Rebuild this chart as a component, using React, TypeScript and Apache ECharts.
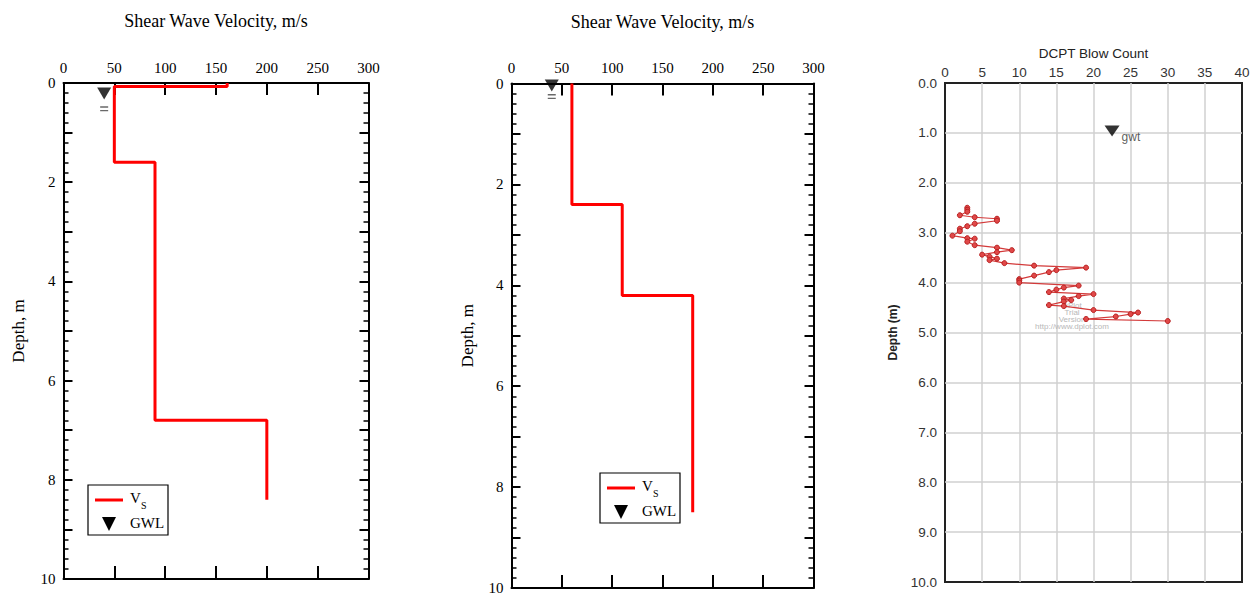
import React, { useEffect, useRef } from "react";
import * as echarts from "echarts";

// ---- Data ----
const leftVsVelocity = [161, 161, 50, 50, 90, 90, 200, 200];
const leftVsDepth = [0, 0.07, 0.07, 1.6, 1.6, 6.8, 6.8, 8.4];
const leftGwl = [40, 0.21];
const leftGwlDash = [40, 0.52];

const midVsVelocity = [60, 60, 110, 110, 180, 180];
const midVsDepth = [0, 2.4, 2.4, 4.2, 4.2, 8.5];
const midGwl = [40, 0.04];
const midGwlDash = [40, 0.26];

const dcptBlows = [3, 3, 3, 2, 4, 7, 7, 4, 3, 2, 2, 1, 3, 4, 3, 4, 7, 9, 7, 5, 6, 7, 6, 8, 12, 19, 15, 14, 12, 10, 10, 10, 18, 16, 15, 14, 20, 18, 16, 17, 16, 14, 16, 20, 26, 25, 23, 19, 30];
const dcptDepth = [2.5, 2.54, 2.58, 2.65, 2.69, 2.72, 2.76, 2.82, 2.87, 2.92, 2.97, 3.06, 3.11, 3.12, 3.18, 3.25, 3.3, 3.35, 3.39, 3.44, 3.48, 3.52, 3.55, 3.61, 3.66, 3.7, 3.75, 3.79, 3.86, 3.93, 3.96, 4.0, 4.06, 4.1, 4.14, 4.19, 4.23, 4.27, 4.32, 4.35, 4.38, 4.45, 4.47, 4.55, 4.6, 4.63, 4.68, 4.73, 4.77];
const gwtPoint = [22.5, 0.96];

const velocityTitle = "Shear Wave Velocity, m/s";
const depthTitle = "Depth, m";
const dcptTitle = "DCPT Blow Count";
const dcptDepthTitle = "Depth (m)";
const watermark = ["DPlot", "Trial", "Version", "http://www.dplot.com"];

const SERIF = "'Liberation Serif', 'Times New Roman', serif";
const SANS = "'Liberation Sans', Arial, sans-serif";

const zip = (a: number[], b: number[]) => a.map((v, i) => [v, b[i]]);

function velTop(gridIndex: number) {
  return {
    type: "value", gridIndex, position: "top", min: 0, max: 300, interval: 50,
    name: velocityTitle, nameLocation: "middle", nameGap: 53,
    nameTextStyle: { fontFamily: SERIF, fontSize: 18, color: "#000" },
    axisLine: { show: true, onZero: false, lineStyle: { color: "#000", width: 2 } },
    axisTick: { show: true, inside: true, length: 12, lineStyle: { color: "#000", width: 2 } },
    axisLabel: { show: true, margin: 8, fontFamily: SERIF, fontSize: 15, color: "#000" },
    splitLine: { show: false },
  };
}
function velBottom(gridIndex: number) {
  return {
    type: "value", gridIndex, position: "bottom", min: 0, max: 300, interval: 50,
    axisLine: { show: true, onZero: false, lineStyle: { color: "#000", width: 2 } },
    axisTick: { show: true, inside: true, length: 13, lineStyle: { color: "#000", width: 2 } },
    axisLabel: { show: false },
    splitLine: { show: false },
  };
}
function depthLeft(gridIndex: number, gap: number) {
  return {
    type: "value", gridIndex, position: "left", inverse: true, min: 0, max: 10, interval: 1,
    name: depthTitle, nameLocation: "middle", nameGap: gap, nameRotate: 90,
    nameTextStyle: { fontFamily: SERIF, fontSize: 17, color: "#000" },
    axisLine: { show: true, onZero: false, lineStyle: { color: "#000", width: 2 } },
    axisTick: { show: true, inside: true, length: 9, lineStyle: { color: "#000", width: 2 } },
    minorTick: { show: true, splitNumber: 5, length: 5, lineStyle: { color: "#000", width: 1.5 } },
    axisLabel: {
      show: true, margin: 8, fontFamily: SERIF, fontSize: 15, color: "#000",
      formatter: (v: number) => (v % 2 === 0 ? String(v) : ""),
    },
    splitLine: { show: false },
  };
}
function depthRight(gridIndex: number) {
  return {
    type: "value", gridIndex, position: "right", inverse: true, min: 0, max: 10, interval: 1,
    axisLine: { show: true, onZero: false, lineStyle: { color: "#000", width: 2 } },
    axisTick: { show: true, inside: true, length: 9, lineStyle: { color: "#000", width: 2 } },
    minorTick: { show: true, splitNumber: 5, length: 5, lineStyle: { color: "#000", width: 1.5 } },
    axisLabel: { show: false },
    splitLine: { show: false },
  };
}

function legendGroup(x: number, y: number) {
  return {
    type: "group", x, y, z: 100,
    children: [
      { type: "rect", shape: { x: 0, y: 0, width: 80, height: 50 }, style: { fill: "#fff", stroke: "#000", lineWidth: 1.2 } },
      { type: "line", shape: { x1: 7, y1: 15, x2: 35, y2: 15 }, style: { stroke: "#ff0000", lineWidth: 3 } },
      { type: "text", x: 42, y: 13, style: { text: "V", fontFamily: SERIF, fontSize: 15, fill: "#000", verticalAlign: "middle" } },
      { type: "text", x: 53, y: 20, style: { text: "S", fontFamily: SERIF, fontSize: 10, fill: "#000", verticalAlign: "middle" } },
      { type: "polygon", shape: { points: [[14, 32], [28, 32], [21, 46]] }, style: { fill: "#000" } },
      { type: "text", x: 42, y: 38, style: { text: "GWL", fontFamily: SERIF, fontSize: 15, fill: "#000", verticalAlign: "middle" } },
    ],
  };
}

const dashSymbol = "path://M0,0L10,0L10,1.5L0,1.5Z M0,4L10,4L10,5.5L0,5.5Z";

export default function App() {
  const ref = useRef<HTMLDivElement>(null);
  useEffect(() => {
    if (!ref.current) return;
    const chart = echarts.init(ref.current, undefined, { renderer: "svg" });
    const option: any = {
      animation: false,
      backgroundColor: "#fff",
      grid: [
        { left: 63.5, top: 83, width: 305, height: 496 },
        { left: 511.5, top: 83.5, width: 302, height: 504.5 },
        { left: 945, top: 83, width: 297, height: 499, show: true, borderColor: "#222", borderWidth: 2, backgroundColor: "transparent" },
      ],
      xAxis: [
        velTop(0),
        velBottom(0),
        velTop(1),
        velBottom(1),
        {
          type: "value", gridIndex: 2, position: "top", min: 0, max: 40, interval: 5,
          name: dcptTitle, nameLocation: "middle", nameGap: 17,
          nameTextStyle: { fontFamily: SANS, fontSize: 13.5, color: "#222" },
          axisLine: { show: false, onZero: false }, axisTick: { show: false },
          axisLabel: { margin: 4, fontFamily: SANS, fontSize: 13.5, color: "#333" },
          splitLine: { show: true, showMinLine: false, showMaxLine: false, lineStyle: { color: "#d0d0d0", width: 1.5 } },
        },
      ],
      yAxis: [
        depthLeft(0, 37),
        depthRight(0),
        depthLeft(1, 36),
        depthRight(1),
        {
          type: "value", gridIndex: 2, position: "left", inverse: true, min: 0, max: 10, interval: 1,
          name: dcptDepthTitle, nameLocation: "middle", nameGap: 46, nameRotate: 90,
          nameTextStyle: { fontFamily: "'Liberation Sans Narrow', " + SANS, fontSize: 12, fontWeight: "bold", color: "#222" },
          axisLine: { show: false, onZero: false }, axisTick: { show: false },
          axisLabel: { margin: 8, fontFamily: SANS, fontSize: 13.5, color: "#333", formatter: (v: number) => v.toFixed(1) },
          splitLine: { show: true, showMinLine: false, showMaxLine: false, lineStyle: { color: "#d0d0d0", width: 1.5 } },
        },
      ],
      series: [
        {
          name: "Vs", type: "line", xAxisIndex: 0, yAxisIndex: 0, data: zip(leftVsVelocity, leftVsDepth),
          symbol: "none", lineStyle: { color: "#ff0000", width: 3 }, itemStyle: { color: "#ff0000" }, z: 3,
        },
        {
          name: "GWL", type: "scatter", xAxisIndex: 0, yAxisIndex: 0, data: [leftGwl],
          symbol: "triangle", symbolRotate: 180, symbolSize: [14, 12], itemStyle: { color: "#000" }, z: 4,
        },
        {
          name: "GWL mark", type: "scatter", xAxisIndex: 0, yAxisIndex: 0, data: [leftGwlDash],
          symbol: dashSymbol, symbolKeepAspect: false, symbolSize: [8, 5], itemStyle: { color: "#444" }, z: 4,
        },
        {
          name: "Vs", type: "line", xAxisIndex: 2, yAxisIndex: 2, data: zip(midVsVelocity, midVsDepth),
          symbol: "none", lineStyle: { color: "#ff0000", width: 3 }, itemStyle: { color: "#ff0000" }, z: 3,
        },
        {
          name: "GWL", type: "scatter", xAxisIndex: 2, yAxisIndex: 2, data: [midGwl],
          symbol: "triangle", symbolRotate: 180, symbolSize: [14, 12], itemStyle: { color: "#000" }, z: 4,
        },
        {
          name: "GWL mark", type: "scatter", xAxisIndex: 2, yAxisIndex: 2, data: [midGwlDash],
          symbol: dashSymbol, symbolKeepAspect: false, symbolSize: [8, 5], itemStyle: { color: "#444" }, z: 4,
        },
        {
          name: "DCPT", type: "line", xAxisIndex: 4, yAxisIndex: 4, data: zip(dcptBlows, dcptDepth),
          symbol: "circle", symbolSize: 5, showAllSymbol: true,
          lineStyle: { color: "#d33a3a", width: 1.2 },
          itemStyle: { color: "#e04848", borderColor: "#b82020", borderWidth: 1 }, z: 3,
        },
        {
          name: "gwt", type: "scatter", xAxisIndex: 4, yAxisIndex: 4, data: [gwtPoint],
          symbol: "triangle", symbolRotate: 180, symbolSize: [15, 11], itemStyle: { color: "#000" }, z: 4,
          label: { show: true, formatter: "gwt", position: "right", distance: 2, offset: [0, 6], fontFamily: SANS, fontSize: 12, color: "#333" },
        },
      ],
      graphic: [
        legendGroup(88, 485),
        legendGroup(600, 473),
        ...watermark.map((t, i) => ({
          type: "text", x: 1072, y: 305 + i * 7, z: 1,
          style: { text: t, fontFamily: SANS, fontSize: 8, fill: "#b8b8b8", textAlign: "center", verticalAlign: "middle" },
        })),
      ],
    };
    chart.setOption(option);
    return () => chart.dispose();
  }, []);
  return <div ref={ref} style={{ position: "absolute", left: 0, top: 0, width: 1258, height: 597 }} />;
}
